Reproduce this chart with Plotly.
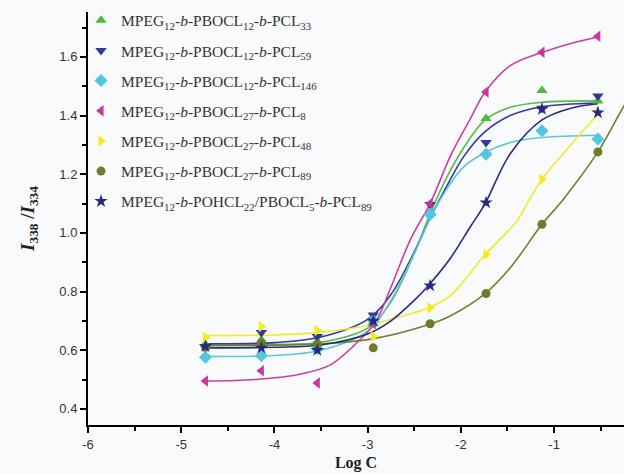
import plotly.graph_objects as go

# ---------------- data ----------------
x_pts = [-4.74, -4.14, -3.54, -2.94, -2.33, -1.73, -1.13, -0.53]

names = [
    "MPEG<sub>12</sub>-<i>b</i>-PBOCL<sub>12</sub>-<i>b</i>-PCL<sub>33</sub>",
    "MPEG<sub>12</sub>-<i>b</i>-PBOCL<sub>12</sub>-<i>b</i>-PCL<sub>59</sub>",
    "MPEG<sub>12</sub>-<i>b</i>-PBOCL<sub>12</sub>-<i>b</i>-PCL<sub>146</sub>",
    "MPEG<sub>12</sub>-<i>b</i>-PBOCL<sub>27</sub>-<i>b</i>-PCL<sub>8</sub>",
    "MPEG<sub>12</sub>-<i>b</i>-PBOCL<sub>27</sub>-<i>b</i>-PCL<sub>48</sub>",
    "MPEG<sub>12</sub>-<i>b</i>-PBOCL<sub>27</sub>-<i>b</i>-PCL<sub>89</sub>",
    "MPEG<sub>12</sub>-<i>b</i>-POHCL<sub>22</sub>/PBOCL<sub>5</sub>-<i>b</i>-PCL<sub>89</sub>",
]

x_tickvals = [-6, -5, -4, -3, -2, -1]
x_ticktext = ["-6", "-5", "-4", "-3", "-2", "-1"]
y_tickvals = [0.4, 0.6, 0.8, 1.0, 1.2, 1.4, 1.6]
y_ticktext = ["0.4", "0.6", "0.8", "1.0", "1.2", "1.4", "1.6"]

# measured points (I338/I334)
y_pcl33 = [0.62, 0.635, 0.63, 0.69, 1.07, 1.39, 1.485, 1.45]
y_pcl59 = [0.613, 0.66, 0.647, 0.72, 1.097, 1.308, 1.425, 1.467]
y_pcl146 = [0.576, 0.581, 0.605, 0.70, 1.063, 1.268, 1.348, 1.32]
y_pcl8 = [0.495, 0.53, 0.488, 0.69, 1.10, 1.48, 1.616, 1.67]
y_pcl48 = [0.643, 0.681, 0.667, 0.647, 0.745, 0.926, 1.183, 1.41]
y_pcl89 = [0.61, 0.625, 0.62, 0.608, 0.69, 0.793, 1.029, 1.276]
y_pohcl = [0.613, 0.608, 0.60, 0.70, 0.82, 1.103, 1.422, 1.41]

# fitted curves
cx_pcl33 = [-4.74, -4.0, -3.5, -3.0, -2.75, -2.5, -2.33, -2.15, -1.97, -1.74, -1.47, -1.13, -0.53]
cy_pcl33 = [0.618, 0.62, 0.627, 0.675, 0.765, 0.93, 1.065, 1.19, 1.29, 1.385, 1.428, 1.445, 1.45]

cx_pcl59 = [-4.74, -4.0, -3.5, -3.0, -2.75, -2.5, -2.33, -2.15, -1.97, -1.74, -1.47, -1.13, -0.53]
cy_pcl59 = [0.622, 0.626, 0.645, 0.705, 0.79, 0.935, 1.05, 1.16, 1.26, 1.345, 1.40, 1.43, 1.443]

cx_pcl146 = [-4.74, -4.0, -3.5, -3.0, -2.75, -2.5, -2.33, -2.15, -1.97, -1.74, -1.47, -1.13, -0.53]
cy_pcl146 = [0.579, 0.582, 0.60, 0.665, 0.77, 0.93, 1.05, 1.15, 1.225, 1.274, 1.308, 1.325, 1.333]

cx_pcl8 = [-4.74, -4.2, -3.7, -3.4, -3.15, -2.92, -2.76, -2.54, -2.33, -2.1, -1.9, -1.74, -1.47, -1.13, -0.83, -0.53]
cy_pcl8 = [0.495, 0.50, 0.52, 0.55, 0.615, 0.694, 0.807, 0.978, 1.10, 1.27, 1.388, 1.48, 1.57, 1.615, 1.645, 1.668]

cx_pcl48 = [-4.74, -4.0, -3.58, -3.0, -2.7, -2.35, -2.12, -1.74, -1.4, -1.29, -1.13, -0.82, -0.53]
cy_pcl48 = [0.65, 0.652, 0.659, 0.684, 0.71, 0.744, 0.784, 0.926, 1.04, 1.10, 1.183, 1.30, 1.405]

cx_pcl89 = [-4.74, -4.0, -3.72, -3.0, -2.35, -2.12, -1.74, -1.47, -1.13, -0.9, -0.53, -0.25, -0.15]
cy_pcl89 = [0.615, 0.617, 0.619, 0.636, 0.687, 0.716, 0.793, 0.881, 1.029, 1.115, 1.276, 1.433, 1.48]

cx_pohcl = [-4.74, -4.0, -3.5, -3.0, -2.75, -2.5, -2.35, -2.12, -1.9, -1.74, -1.47, -1.13, -0.82, -0.53]
cy_pohcl = [0.608, 0.61, 0.618, 0.655, 0.70, 0.77, 0.82, 0.91, 1.02, 1.10, 1.27, 1.385, 1.425, 1.44]

marker_ys = [y_pcl33, y_pcl59, y_pcl146, y_pcl8, y_pcl48, y_pcl89, y_pohcl]
curve_xs = [cx_pcl33, cx_pcl59, cx_pcl146, cx_pcl8, cx_pcl48, cx_pcl89, cx_pohcl]
curve_ys = [cy_pcl33, cy_pcl59, cy_pcl146, cy_pcl8, cy_pcl48, cy_pcl89, cy_pohcl]

marker_colors = ["#4fba3c", "#2d3a9c", "#52c8de", "#c8379a", "#f4ea1e", "#6f7a2a", "#27287f"]
line_colors = ["#55bb44", "#3438a4", "#5cc6da", "#cc3fa0", "#f2ea2a", "#787c2e", "#2a2a88"]
symbols = ["triangle-up", "triangle-down", "diamond", "triangle-left", "triangle-right", "circle", "star"]
sizes = [10, 10, 10, 10, 10, 9, 10]

fig = go.Figure()

for cx, cy, lc in zip(curve_xs, curve_ys, line_colors):
    fig.add_trace(go.Scatter(x=cx, y=cy, mode="lines", line=dict(color=lc, width=1.6, shape="spline", smoothing=1.0),
                             showlegend=False, hoverinfo="skip"))

for i, (nm, ys, mc, sym, sz) in enumerate(zip(names, marker_ys, marker_colors, symbols, sizes)):
    fig.add_trace(go.Scatter(x=x_pts, y=ys, mode="markers", name=nm, legendgroup=f"g{i}",
                             marker=dict(color=mc, symbol=sym, size=sz, line=dict(width=0))))

axis_common = dict(
    showline=True, linecolor="black", linewidth=2,
    ticks="outside", ticklen=6, tickwidth=1.5, tickcolor="black",
    showgrid=False, zeroline=False, mirror=False,
    tickfont=dict(family="Liberation Sans, Arial", size=13, color="#333333"),
)

fig.update_layout(
    width=624, height=474,
    margin=dict(l=88, r=0, t=12, b=49),
    paper_bgcolor="#f9fafc", plot_bgcolor="#f9fafc",
    xaxis=dict(range=[-6, -0.25], tickmode="array", tickvals=x_tickvals, ticktext=x_ticktext,
               minor=dict(dtick=0.5, tick0=-6, ticks="outside", ticklen=4, tickcolor="black", tickwidth=1.5),
               title=dict(text="<b>Log C</b>", font=dict(family="Liberation Serif, Times New Roman", size=16, color="#222222"), standoff=6),
               **axis_common),
    yaxis=dict(range=[0.345, 1.753], tickmode="array", tickvals=y_tickvals, ticktext=y_ticktext,
               minor=dict(dtick=0.1, tick0=0.4, ticks="outside", ticklen=4, tickcolor="black", tickwidth=1.5),
               title=dict(text="<b><i>I</i></b><b><sub>338</sub></b><b> /<i>I</i></b><b><sub>334</sub></b>",
                          font=dict(family="Liberation Serif, Times New Roman", size=19, color="#222222"), standoff=20),
               **axis_common),
    legend=dict(x=-0.013, y=1.02, xanchor="left", yanchor="top", bgcolor="rgba(0,0,0,0)",
                font=dict(family="Liberation Serif, Times New Roman", size=15.5, color="#333333"),
                tracegroupgap=7),
    showlegend=True,
)

fig.write_html("out.html")
